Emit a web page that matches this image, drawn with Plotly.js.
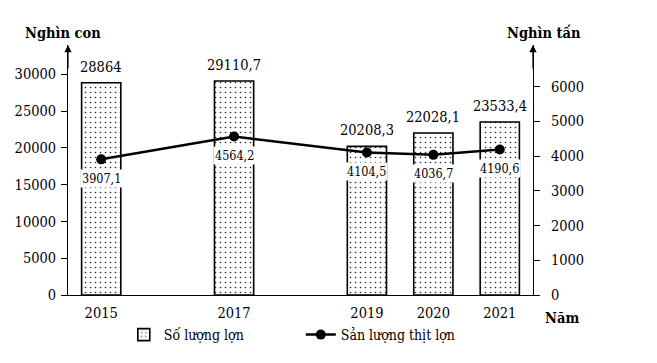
<!DOCTYPE html>
<html><head><meta charset="utf-8">
<script src="https://cdn.plot.ly/plotly-3.0.1.min.js"></script>
<style>html,body{margin:0;padding:0;background:#fff}#chart{width:657px;height:363px}</style>
</head><body><div id="chart"></div>
<script>
const years = [2015, 2017, 2019, 2020, 2021];
const yearLabels = ['2015', '2017', '2019', '2020', '2021'];
const pigCount = [28864, 29110.7, 20208.3, 22028.1, 23533.4];
const porkOutput = [3907.1, 4564.2, 4104.5, 4036.7, 4190.6];
const leftTicks = [0, 5000, 10000, 15000, 20000, 25000, 30000];
const rightTicks = [0, 1000, 2000, 3000, 4000, 5000, 6000];

const fmt = v => String(v).replace('.', ',');
const FONT = "'DejaVu Serif Condensed', 'DejaVu Serif', serif";

const traces = [
  {
    type: 'bar', name: 'Số lượng lợn', x: years, y: pigCount, width: 0.59,
    marker: {color: 'white', line: {color: 'black', width: 1.6},
      pattern: {shape: '.', fgcolor: '#222', bgcolor: 'white', size: 5, solidity: 0.08}},
    hoverinfo: 'skip'
  },
  {
    type: 'scatter', mode: 'lines+markers', name: 'Sản lượng thịt lợn', x: years, y: porkOutput, yaxis: 'y2',
    line: {color: 'black', width: 2.5}, marker: {color: 'black', size: 10}, hoverinfo: 'skip'
  }
];

const annotations = [];
pigCount.forEach((v, i) => annotations.push({
  x: years[i], y: v, xref: 'x', yref: 'y', text: fmt(v), showarrow: false,
  yshift: 16, font: {family: FONT, size: 14.5, color: 'black'}
}));
porkOutput.forEach((v, i) => annotations.push({
  x: years[i], y: v, xref: 'x', yref: 'y2', text: fmt(v), showarrow: false,
  yshift: -19, bgcolor: 'white', borderpad: 1,
  font: {family: FONT, size: 12.5, color: 'black'}
}));
annotations.push(
  {xref: 'paper', yref: 'paper', x: -0.01, y: 1.048, xanchor: 'center', yanchor: 'middle', text: '<b>Nghìn con</b>', showarrow: false, font: {family: FONT, size: 14.5, color: 'black'}},
  {xref: 'paper', yref: 'paper', x: 1.024, y: 1.048, xanchor: 'center', yanchor: 'middle', text: '<b>Nghìn tấn</b>', showarrow: false, font: {family: FONT, size: 14.5, color: 'black'}},
  {xref: 'paper', yref: 'paper', x: 1.062, y: -0.088, xanchor: 'center', yanchor: 'middle', text: '<b>Năm</b>', showarrow: false, font: {family: FONT, size: 14.5, color: 'black'}},
  {xref: 'paper', yref: 'paper', x: 0, y: 1, ax: 0, ay: 25, text: '', showarrow: true, arrowhead: 2, arrowsize: 1.2, arrowwidth: 1.2, arrowcolor: 'black'},
  {xref: 'paper', yref: 'paper', x: 1, y: 1, ax: 0, ay: 25, text: '', showarrow: true, arrowhead: 2, arrowsize: 1.2, arrowwidth: 1.2, arrowcolor: 'black'}
);

const layout = {
  width: 657, height: 363,
  margin: {l: 68, r: 124, t: 45, b: 66},
  paper_bgcolor: 'white', plot_bgcolor: 'white',
  font: {family: FONT, size: 14, color: 'black'},
  showlegend: true,
  legend: {orientation: 'h', x: 0.12, xanchor: 'left', y: -0.16, yanchor: 'middle', bgcolor: 'rgba(0,0,0,0)',
    font: {family: FONT, size: 14, color: 'black'}, entrywidth: 132, entrywidthmode: 'pixels', traceorder: 'normal'},
  xaxis: {range: [2014.5, 2021.5], tickvals: years, ticktext: yearLabels, showline: true, linecolor: 'black', linewidth: 1,
    ticks: '', showgrid: false, zeroline: false, ticklabelstandoff: 5, tickfont: {family: FONT, size: 14.5}},
  yaxis: {range: [0, 34000], tickvals: leftTicks, ticktext: leftTicks.map(String), showline: true, linecolor: 'black', linewidth: 1,
    ticks: 'outside', ticklen: 6, tickcolor: 'black', showgrid: false, zeroline: false, ticklabelstandoff: 2, tickfont: {family: FONT, size: 14.5}},
  yaxis2: {range: [0, 7200], overlaying: 'y', side: 'right', tickvals: rightTicks, ticktext: rightTicks.map(String), showline: true, linecolor: 'black', linewidth: 1,
    ticks: 'outside', ticklen: 6, tickcolor: 'black', showgrid: false, zeroline: false, ticklabelstandoff: 8, tickfont: {family: FONT, size: 14.5}},
  annotations: annotations
};

Plotly.newPlot('chart', traces, layout, {displayModeBar: false, staticPlot: true});
</script></body></html>
